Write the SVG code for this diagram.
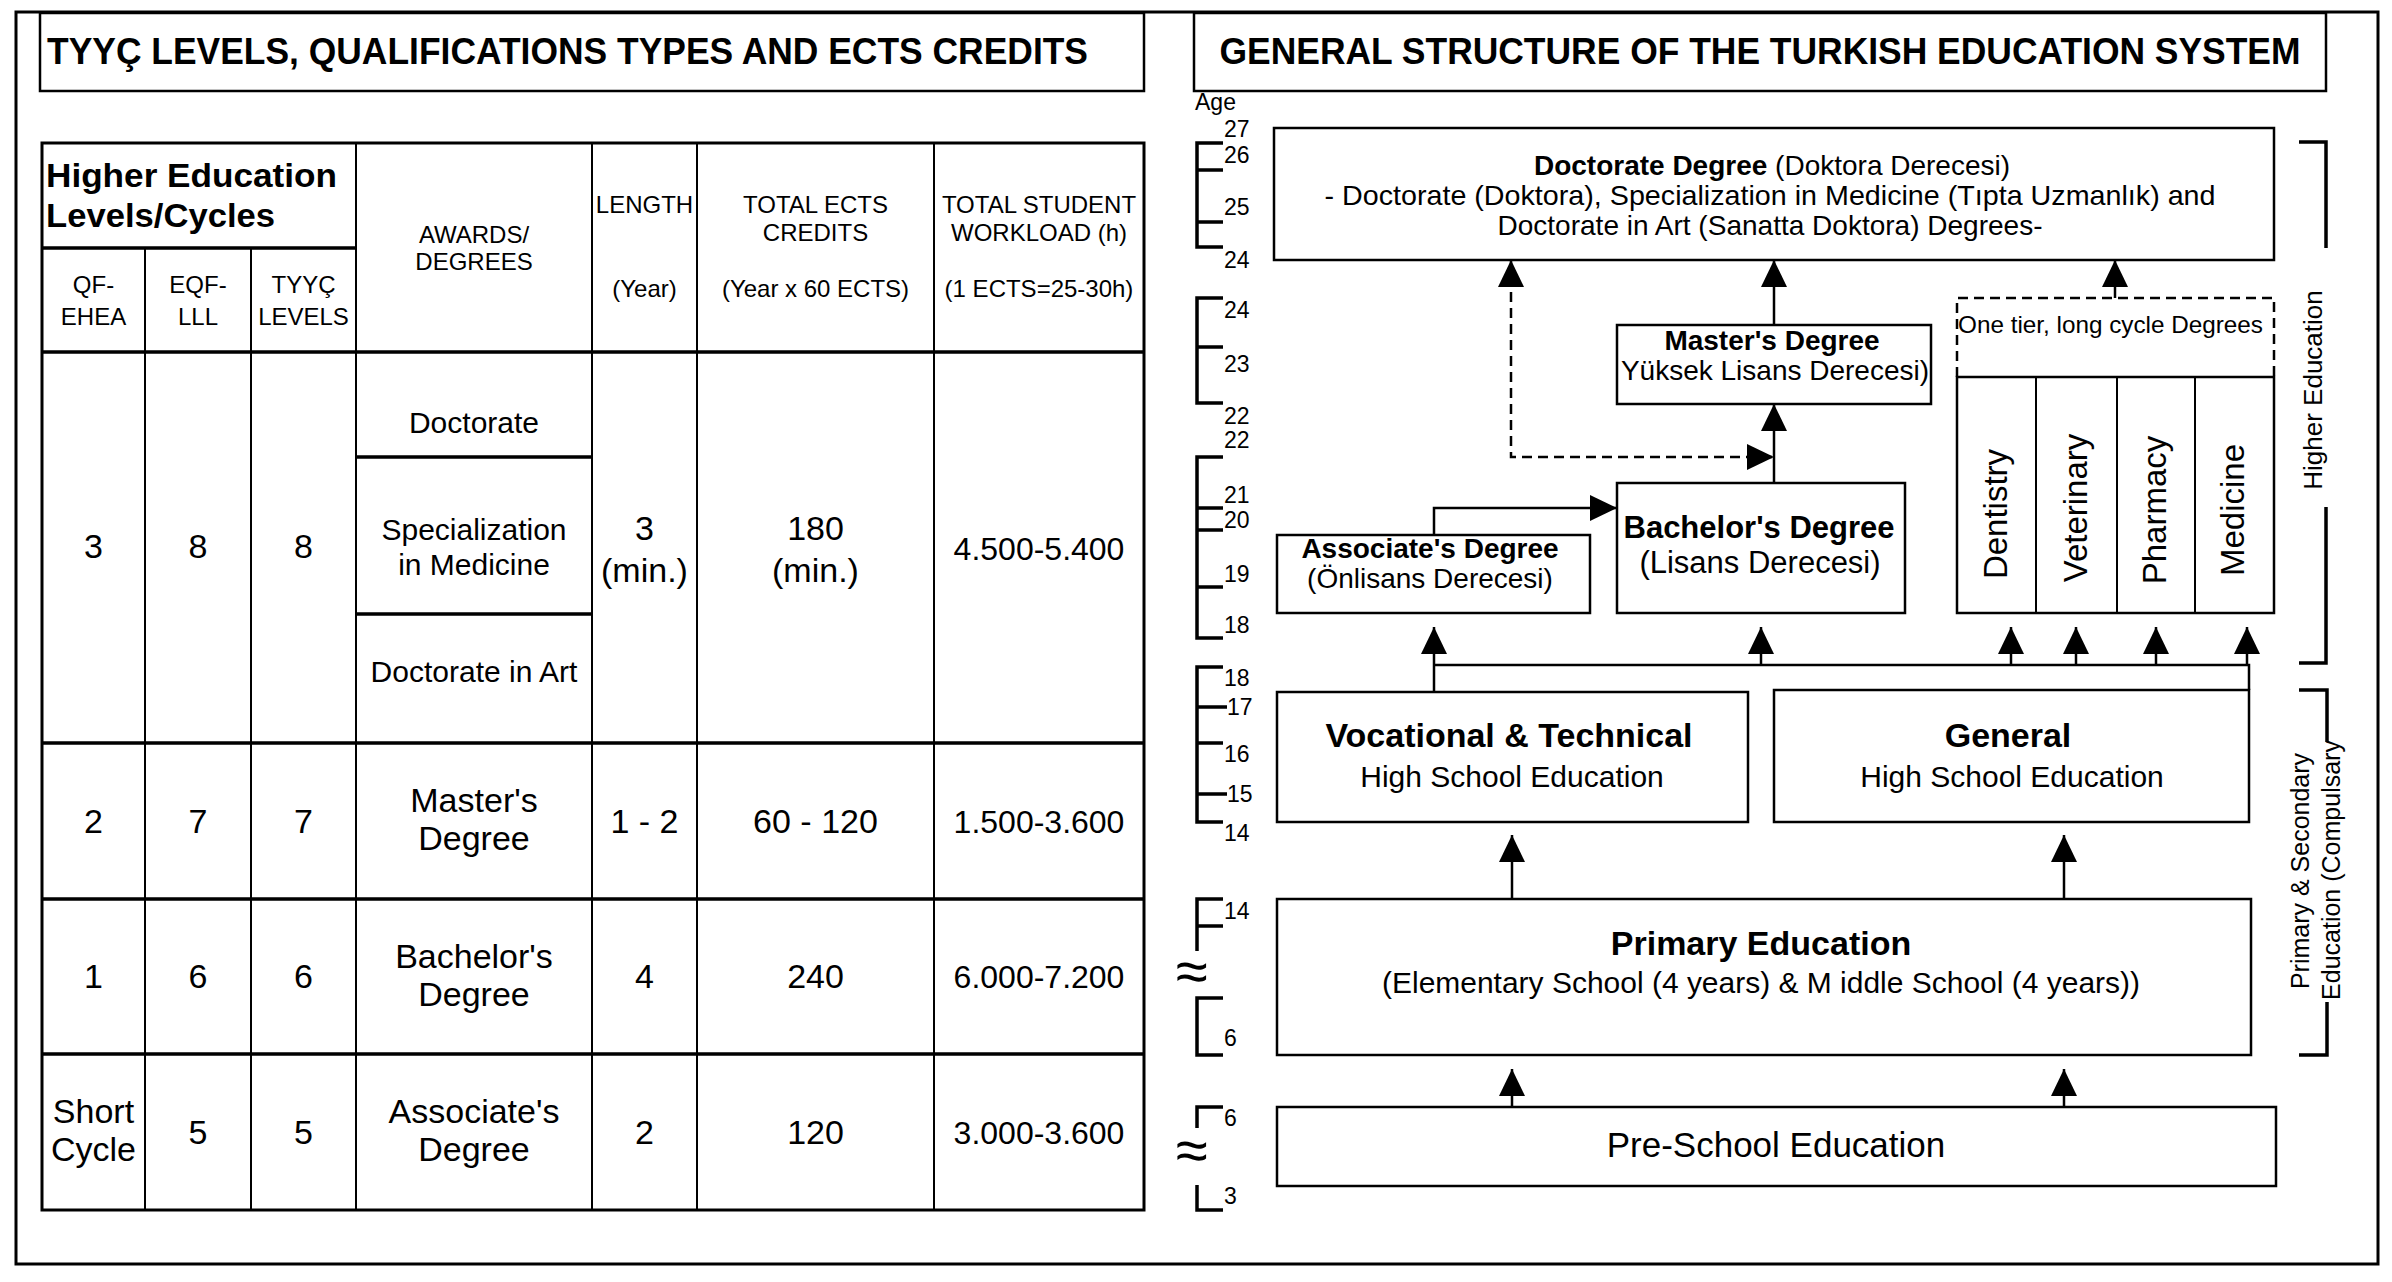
<svg xmlns="http://www.w3.org/2000/svg" width="2392" height="1282" viewBox="0 0 2392 1282">
<defs>
<style>
text{font-family:"Liberation Sans",Arial,Helvetica,sans-serif;fill:#000}
.b{font-weight:bold}
.m{text-anchor:middle}
.box{fill:#fff;stroke:#000;stroke-width:2.5}
.frame{fill:none;stroke:#000;stroke-width:3}
.tl{stroke:#000;stroke-width:2;fill:none}
.th{stroke:#000;stroke-width:3.5;fill:none}
.hd{font-size:24px;text-anchor:middle}
.cell{font-size:34px;text-anchor:middle}
.cs{font-size:30px;text-anchor:middle}
.wl{font-size:32px;text-anchor:middle}
.age{font-size:23px}
.apx{font-size:58px;text-anchor:middle}
.brk{fill:none;stroke:#000;stroke-width:3.5}
.conn{fill:none;stroke:#000;stroke-width:2.5}
.dash{stroke-dasharray:10 6}
.arr{marker-end:url(#ah)}
</style>
<marker id="ah" markerUnits="userSpaceOnUse" markerWidth="28" markerHeight="26" refX="27" refY="13" orient="auto-start-reverse" overflow="visible"><path d="M0,0 L27,13 L0,26 Z" fill="#000"/></marker>
</defs>
<rect width="2392" height="1282" fill="#fff"/>
<rect x="16" y="12" width="2362" height="1252" class="frame"/>

<!-- LEFT PANEL -->
<g id="left-title">
<rect x="40" y="13" width="1104" height="78" class="box"/>
<text x="47" y="64" class="b" font-size="36" textLength="1041" lengthAdjust="spacingAndGlyphs">TYYÇ LEVELS, QUALIFICATIONS TYPES AND ECTS CREDITS</text>
</g>

<g id="table">
<rect x="42" y="143" width="1102" height="1067" fill="#fff" stroke="#000" stroke-width="3"/>
<path class="th" d="M42,248 H356 M42,352 H1144 M356,457 H592 M356,614 H592 M42,743 H1144 M42,899 H1144 M42,1054 H1144"/>
<path class="tl" d="M145,248 V1210 M251,248 V1210 M356,143 V1210 M592,143 V1210 M697,143 V1210 M934,143 V1210"/>
<g id="header">
<text x="46" y="187" class="b" font-size="34" textLength="291" lengthAdjust="spacingAndGlyphs">Higher Education</text>
<text x="46" y="227" class="b" font-size="34" textLength="229" lengthAdjust="spacingAndGlyphs">Levels/Cycles</text>
<text class="hd" x="93.5" y="293">QF-</text><text class="hd" x="93.5" y="325">EHEA</text>
<text class="hd" x="198" y="293">EQF-</text><text class="hd" x="198" y="325">LLL</text>
<text class="hd" x="303.5" y="293">TYYÇ</text><text class="hd" x="303.5" y="325">LEVELS</text>
<text class="hd" x="474" y="243">AWARDS/</text><text class="hd" x="474" y="270">DEGREES</text>
<text class="hd" x="644.5" y="213">LENGTH</text><text class="hd" x="644.5" y="297">(Year)</text>
<text class="hd" x="815.5" y="213">TOTAL ECTS</text><text class="hd" x="815.5" y="241">CREDITS</text><text class="hd" x="815.5" y="297">(Year x 60 ECTS)</text>
<text class="hd" x="1039" y="213">TOTAL STUDENT</text><text class="hd" x="1039" y="241">WORKLOAD (h)</text><text class="hd" x="1039" y="297">(1 ECTS=25-30h)</text>
</g>
<g id="row-level8">
<text class="cell" x="93.5" y="558">3</text><text class="cell" x="198" y="558">8</text><text class="cell" x="303.5" y="558">8</text>
<text class="cs" x="474" y="433">Doctorate</text>
<text class="cs" x="474" y="540">Specialization</text><text class="cs" x="474" y="575">in Medicine</text>
<text class="cs" x="474" y="682">Doctorate in Art</text>
<text class="cell" x="644.5" y="540">3</text><text class="cell" x="644.5" y="582">(min.)</text>
<text class="cell" x="815.5" y="540">180</text><text class="cell" x="815.5" y="582">(min.)</text>
<text class="wl" x="1039" y="560">4.500-5.400</text>
</g>
<g id="row-level7">
<text class="cell" x="93.5" y="833">2</text><text class="cell" x="198" y="833">7</text><text class="cell" x="303.5" y="833">7</text>
<text class="cell" x="474" y="812">Master's</text><text class="cell" x="474" y="850">Degree</text>
<text class="cell" x="644.5" y="833">1 - 2</text>
<text class="cell" x="815.5" y="833">60 - 120</text>
<text class="wl" x="1039" y="833">1.500-3.600</text>
</g>
<g id="row-level6">
<text class="cell" x="93.5" y="988">1</text><text class="cell" x="198" y="988">6</text><text class="cell" x="303.5" y="988">6</text>
<text class="cell" x="474" y="968">Bachelor's</text><text class="cell" x="474" y="1006">Degree</text>
<text class="cell" x="644.5" y="988">4</text>
<text class="cell" x="815.5" y="988">240</text>
<text class="wl" x="1039" y="988">6.000-7.200</text>
</g>
<g id="row-level5">
<text class="cell" x="93.5" y="1123">Short</text><text class="cell" x="93.5" y="1161">Cycle</text>
<text class="cell" x="198" y="1144">5</text><text class="cell" x="303.5" y="1144">5</text>
<text class="cell" x="474" y="1123">Associate's</text><text class="cell" x="474" y="1161">Degree</text>
<text class="cell" x="644.5" y="1144">2</text>
<text class="cell" x="815.5" y="1144">120</text>
<text class="wl" x="1039" y="1144">3.000-3.600</text>
</g>
</g>

<!-- RIGHT PANEL -->
<g id="right-title">
<rect x="1194" y="13" width="1132" height="78" class="box"/>
<text x="1760" y="64" class="b m" font-size="36" textLength="1081" lengthAdjust="spacingAndGlyphs">GENERAL STRUCTURE OF THE TURKISH EDUCATION SYSTEM</text>
</g>

<g id="age-scale">
<text class="age" x="1195" y="110">Age</text>
<text class="age" x="1224" y="137">27</text>
<path class="brk" d="M1223,143 H1197 V247 H1223 M1197,170 H1223 M1197,222 H1223"/>
<text class="age" x="1224" y="163">26</text><text class="age" x="1224" y="215">25</text><text class="age" x="1224" y="268">24</text>
<path class="brk" d="M1223,298 H1197 V403 H1223 M1197,347 H1223"/>
<text class="age" x="1224" y="318">24</text><text class="age" x="1224" y="372">23</text><text class="age" x="1224" y="424">22</text>
<text class="age" x="1224" y="448">22</text>
<path class="brk" d="M1223,457 H1197 V638 H1223 M1197,508 H1223 M1197,530 H1223 M1197,587 H1223"/>
<text class="age" x="1224" y="503">21</text><text class="age" x="1224" y="528">20</text><text class="age" x="1224" y="582">19</text><text class="age" x="1224" y="633">18</text>
<path class="brk" d="M1223,667 H1197 V822 H1223 M1197,707 H1227 M1197,743 H1223 M1197,794 H1227"/>
<text class="age" x="1224" y="686">18</text><text class="age" x="1227" y="715">17</text><text class="age" x="1224" y="762">16</text><text class="age" x="1227" y="802">15</text><text class="age" x="1224" y="841">14</text>
<path class="brk" d="M1223,899 H1197 V951 M1197,926 H1223"/>
<text class="age" x="1224" y="919">14</text>
<text x="1192" y="991" class="apx">≈</text>
<path class="brk" d="M1223,998 H1197 V1055 H1223"/>
<text class="age" x="1224" y="1046">6</text>
<path class="brk" d="M1223,1107 H1197 V1128"/>
<text class="age" x="1224" y="1126">6</text>
<text x="1192" y="1170" class="apx">≈</text>
<path class="brk" d="M1197,1185 V1210 H1223"/>
<text class="age" x="1224" y="1204">3</text>
</g>

<g id="doctorate">
<rect x="1274" y="128" width="1000" height="132" class="box"/>
<text x="1772" y="175" class="m" font-size="28"><tspan class="b">Doctorate Degree</tspan> (Doktora Derecesi)</text>
<text x="1770" y="205" class="m" font-size="28" textLength="891" lengthAdjust="spacingAndGlyphs">- Doctorate (Doktora), Specialization in Medicine (Tıpta Uzmanlık) and</text>
<text x="1770" y="235" class="m" font-size="28" textLength="545" lengthAdjust="spacingAndGlyphs">Doctorate in Art (Sanatta Doktora) Degrees-</text>
</g>

<g id="masters">
<rect x="1617" y="325" width="314" height="79" class="box"/>
<text x="1772" y="350" class="b m" font-size="28">Master's Degree</text>
<text x="1775" y="380" class="m" font-size="28">Yüksek Lisans Derecesi)</text>
</g>

<g id="one-tier">
<path d="M1957,377 V298 H2274 V377" fill="none" stroke="#000" stroke-width="2.5" stroke-dasharray="10 6"/>
<text x="1958" y="333" font-size="24" textLength="305" lengthAdjust="spacingAndGlyphs">One tier, long cycle Degrees</text>
<rect x="1957" y="377" width="317" height="236" class="box"/>
<path class="tl" stroke-width="2.5" d="M2036,377 V613 M2117,377 V613 M2195,377 V613"/>
<text transform="translate(2007,514) rotate(-90)" class="m" font-size="33">Dentistry</text>
<text transform="translate(2087,508) rotate(-90)" class="m" font-size="33">Veterinary</text>
<text transform="translate(2166,510) rotate(-90)" class="m" font-size="33">Pharmacy</text>
<text transform="translate(2244,510) rotate(-90)" class="m" font-size="33">Medicine</text>
</g>

<g id="associate">
<rect x="1277" y="535" width="313" height="78" class="box"/>
<text x="1430" y="558" class="b m" font-size="28">Associate's Degree</text>
<text x="1430" y="588" class="m" font-size="28">(Önlisans Derecesi)</text>
</g>

<g id="bachelor">
<rect x="1617" y="483" width="288" height="130" class="box"/>
<text x="1759" y="538" class="b m" font-size="31">Bachelor's Degree</text>
<text x="1760" y="573" class="m" font-size="31">(Lisans Derecesi)</text>
</g>

<g id="vocational">
<rect x="1277" y="692" width="471" height="130" class="box"/>
<text x="1509" y="747" class="b m" font-size="34">Vocational &amp; Technical</text>
<text x="1512" y="787" class="m" font-size="30">High School Education</text>
</g>

<g id="general">
<rect x="1774" y="690" width="475" height="132" class="box"/>
<text x="2008" y="747" class="b m" font-size="34">General</text>
<text x="2012" y="787" class="m" font-size="30">High School Education</text>
</g>

<g id="primary">
<rect x="1277" y="899" width="974" height="156" class="box"/>
<text x="1761" y="955" class="b m" font-size="34">Primary Education</text>
<text x="1761" y="993" class="m" font-size="30" textLength="758" lengthAdjust="spacingAndGlyphs">(Elementary School (4 years) &amp; M iddle School (4 years))</text>
</g>

<g id="preschool">
<rect x="1277" y="1107" width="999" height="79" class="box"/>
<text x="1776" y="1157" class="m" font-size="35">Pre-School Education</text>
</g>

<g id="level-brackets">
<path class="brk" d="M2299,142 H2326 V248 M2326,507 V663 H2299"/>
<text transform="translate(2322,390) rotate(-90)" class="m" font-size="26">Higher Education</text>
<path class="brk" d="M2299,690 H2327 V742 M2327,1002 V1055 H2299"/>
<text transform="translate(2309,871) rotate(-90)" class="m" font-size="25">Primary &amp; Secondary</text>
<text transform="translate(2340,870) rotate(-90)" class="m" font-size="25">Education (Compulsary</text>
</g>

<g id="connectors">
<path class="conn dash" d="M1511,260 V457 H1774" marker-start="url(#ah)" marker-end="url(#ah)"/>
<path class="conn arr" d="M1774,325 V260"/>
<path class="conn arr" d="M2115,298 V260"/>
<path class="conn arr" d="M1774,483 V404"/>
<path class="conn arr" d="M1434,535 V508 H1617"/>
<path class="conn arr" d="M1434,692 V627"/>
<path class="conn" stroke-width="3.5" d="M1434,665 H2249 V690"/>
<path class="conn arr" d="M1761,665 V627"/>
<path class="conn arr" d="M2011,665 V627"/>
<path class="conn arr" d="M2076,665 V627"/>
<path class="conn arr" d="M2156,665 V627"/>
<path class="conn arr" d="M2247,665 V627"/>
<path class="conn arr" d="M1512,899 V835"/>
<path class="conn arr" d="M2064,899 V835"/>
<path class="conn arr" d="M1512,1107 V1069"/>
<path class="conn arr" d="M2064,1107 V1069"/>
</g>
</svg>
